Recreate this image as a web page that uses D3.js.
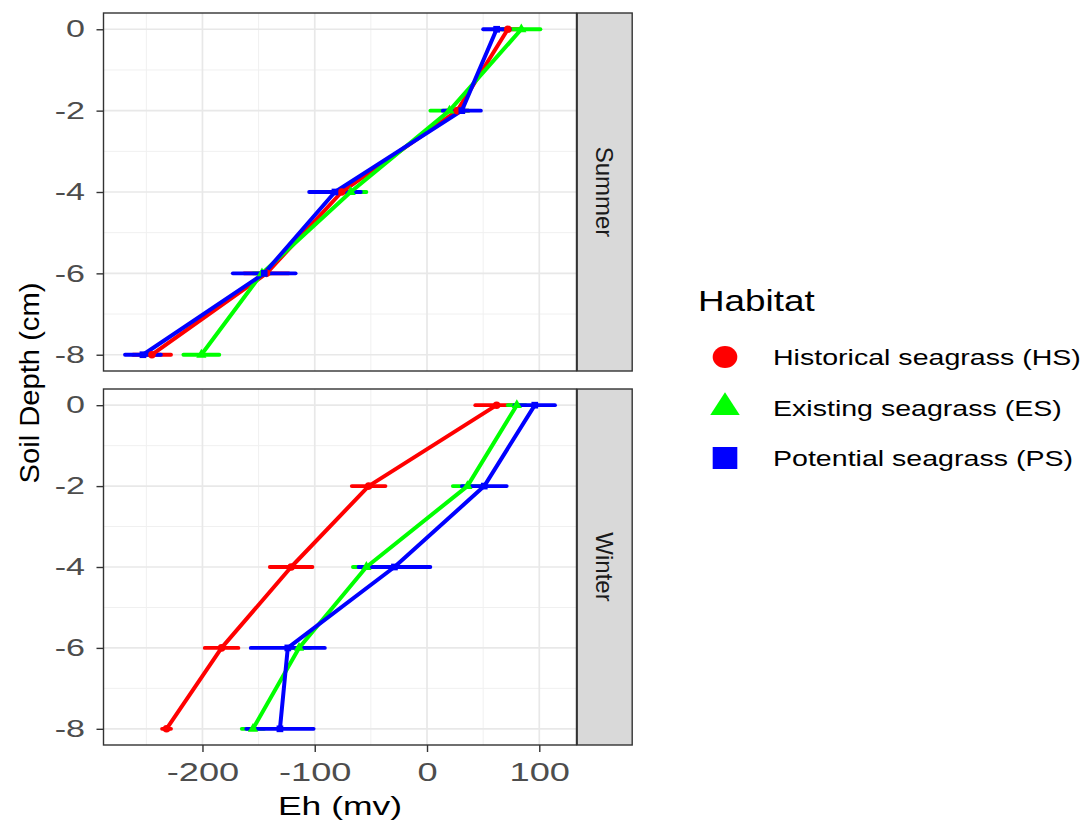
<!DOCTYPE html>
<html>
<head>
<meta charset="utf-8">
<script src="https://cdn.jsdelivr.net/npm/d3@7"></script>
<style>
  body { margin: 0; background: #fff; }
  svg { display: block; }
  text { font-family: "Liberation Sans", Arial, sans-serif; }
</style>
</head>
<body>
<svg id="chart" width="1088" height="821"></svg>
<script>
// depth levels and groups
var depths = [0, -2, -4, -6, -8];
var habitats = ["Historical seagrass (HS)", "Existing seagrass (ES)", "Potential seagrass (PS)"];
var habitatColours = ["#ff0000", "#00ff00", "#0000ff"];
var seasons = ["Summer", "Winter"];

// Eh (mv) means and half widths of the error bars
var summerHS = [72, 27, -76, -143, -245],  summerHSerr = [11, 10, 12, 20, 17];
var summerES = [84, 20, -68, -147, -201],  summerESerr = [17, 17, 14, 8, 16];
var summerPS = [62, 31, -82, -145, -253],  summerPSerr = [12, 17, 23, 28, 16];
var winterHS = [62, -52, -121, -183, -232], winterHSerr = [19, 15, 19, 15, 4];
var winterES = [80, 36, -54, -114, -155],  winterESerr = [8, 13, 12, 10, 10];
var winterPS = [96, 51, -29, -124, -131],  winterPSerr = [18, 20, 32, 33, 30];

var xTicks = [-200, -100, 0, 100],
    xMinor = [-250, -150, -50, 50],
    yTicks = [0, -2, -4, -6, -8],
    yMinor = [-1, -3, -5, -7];

var seriesBySeason = {
  Summer: [[summerHS, summerHSerr], [summerES, summerESerr], [summerPS, summerPSerr]],
  Winter: [[winterHS, winterHSerr], [winterES, winterESerr], [winterPS, winterPSerr]]
};

var panelLeft = 103.5, panelRight = 576.5,
    panels = [{season: "Summer", top: 13, bottom: 371}, {season: "Winter", top: 389, bottom: 745}],
    stripWidth = 55;

var svg = d3.select("#chart");

// the source image has its text widened, so stretch text along its baseline
function stretch(sel, k) {
  sel.each(function() {
    var t = d3.select(this),
        x = +t.attr("x") || 0,
        y = +t.attr("y") || 0;
    t.attr("x", 0).attr("y", 0)
      .attr("transform", "translate(" + x + "," + y + ") scale(" + k + ",1)");
  });
}

// x domain from error bar ends, with ggplot style 5% expansion
var allLo = [], allHi = [];
seasons.forEach(function(s) {
  seriesBySeason[s].forEach(function(p) {
    p[0].forEach(function(v, i) { allLo.push(v - p[1][i]); allHi.push(v + p[1][i]); });
  });
});
var xMin = d3.min(allLo), xMax = d3.max(allHi), xPad = (xMax - xMin) * 0.05;

var x = d3.scaleLinear()
    .domain([xMin - xPad, xMax + xPad])
    .range([panelLeft, panelRight]);

panels.forEach(function(p, pi) {
  var y = d3.scaleLinear().domain([-8.4, 0.4]).range([p.bottom, p.top]);
  var g = svg.append("g");

  g.append("rect")
    .attr("x", panelLeft).attr("y", p.top)
    .attr("width", panelRight - panelLeft).attr("height", p.bottom - p.top)
    .attr("fill", "#fff");

  // grid
  g.selectAll(".xminor").data(xMinor).enter().append("line")
    .attr("x1", function(d) { return x(d); }).attr("x2", function(d) { return x(d); })
    .attr("y1", p.top).attr("y2", p.bottom)
    .attr("stroke", "#f0f0f0").attr("stroke-width", 1);
  g.selectAll(".yminor").data(yMinor).enter().append("line")
    .attr("y1", function(d) { return y(d); }).attr("y2", function(d) { return y(d); })
    .attr("x1", panelLeft).attr("x2", panelRight)
    .attr("stroke", "#f0f0f0").attr("stroke-width", 1);
  g.selectAll(".xmajor").data(xTicks).enter().append("line")
    .attr("x1", function(d) { return x(d); }).attr("x2", function(d) { return x(d); })
    .attr("y1", p.top).attr("y2", p.bottom)
    .attr("stroke", "#e8e8e8").attr("stroke-width", 1.7);
  g.selectAll(".ymajor").data(yTicks).enter().append("line")
    .attr("y1", function(d) { return y(d); }).attr("y2", function(d) { return y(d); })
    .attr("x1", panelLeft).attr("x2", panelRight)
    .attr("stroke", "#e8e8e8").attr("stroke-width", 1.7);

  var series = seriesBySeason[p.season].map(function(s, i) {
    return {
      colour: habitatColours[i],
      shape: i,
      values: depths.map(function(d, j) { return {depth: d, eh: s[0][j], err: s[1][j]}; })
    };
  });

  // horizontal error bars
  series.forEach(function(s) {
    g.selectAll(null).data(s.values).enter().append("line")
      .attr("x1", function(d) { return x(d.eh - d.err); })
      .attr("x2", function(d) { return x(d.eh + d.err); })
      .attr("y1", function(d) { return y(d.depth); })
      .attr("y2", function(d) { return y(d.depth); })
      .attr("stroke", s.colour).attr("stroke-width", 3.8)
      .attr("stroke-linecap", "round");
  });

  var line = d3.line()
    .x(function(d) { return x(d.eh); })
    .y(function(d) { return y(d.depth); });

  series.forEach(function(s) {
    g.append("path")
      .datum(s.values)
      .attr("d", line)
      .attr("fill", "none")
      .attr("stroke", s.colour).attr("stroke-width", 4)
      .attr("stroke-linejoin", "round");
  });

  var shapes = [d3.symbolCircle, d3.symbolTriangle, d3.symbolSquare];
  series.forEach(function(s) {
    g.selectAll(null).data(s.values).enter().append("path")
      .attr("transform", function(d) { return "translate(" + x(d.eh) + "," + y(d.depth) + ")"; })
      .attr("d", d3.symbol().type(shapes[s.shape]).size(45))
      .attr("fill", s.colour);
  });

  // panel border
  g.append("rect")
    .attr("x", panelLeft).attr("y", p.top)
    .attr("width", panelRight - panelLeft).attr("height", p.bottom - p.top)
    .attr("fill", "none").attr("stroke", "#333").attr("stroke-width", 1.4);

  // strip on the right
  g.append("rect")
    .attr("x", panelRight + 0.7).attr("y", p.top)
    .attr("width", stripWidth).attr("height", p.bottom - p.top)
    .attr("fill", "#d9d9d9").attr("stroke", "#333").attr("stroke-width", 1.4);
  g.append("text")
    .attr("transform", "translate(" + (panelRight + 0.7 + stripWidth / 2) + "," + ((p.top + p.bottom) / 2) + ") rotate(90)")
    .attr("text-anchor", "middle")
    .attr("dy", "0.35em")
    .style("font-size", "24px")
    .attr("fill", "#1a1a1a")
    .text(p.season);

  // y axis
  var yAxis = g.append("g")
    .attr("transform", "translate(" + panelLeft + ",0)")
    .call(d3.axisLeft(y).tickValues(yTicks).tickSize(7).tickPadding(11.5));
  yAxis.select(".domain").remove();
  yAxis.selectAll("line").attr("stroke", "#333").attr("stroke-width", 1.4);
  yAxis.selectAll("text")
    .attr("fill", "#4d4d4d")
    .style("font-size", "24px")
    .style("font-family", "'Liberation Sans', Arial, sans-serif")
    .text(function(d) { return String(d); });
  stretch(yAxis.selectAll("text"), 1.42);

  // x axis only under the bottom panel
  if (pi === panels.length - 1) {
    var xAxis = g.append("g")
      .attr("transform", "translate(0," + p.bottom + ")")
      .call(d3.axisBottom(x).tickValues(xTicks).tickSize(7).tickPadding(11));
    xAxis.select(".domain").remove();
    xAxis.selectAll("line").attr("stroke", "#333").attr("stroke-width", 1.4);
    xAxis.selectAll("text")
      .attr("fill", "#4d4d4d")
      .style("font-size", "25.5px")
      .style("font-family", "'Liberation Sans', Arial, sans-serif")
      .text(function(d) { return String(d); });
    stretch(xAxis.selectAll("text"), 1.42);
  }
});

// axis titles
svg.append("text")
  .attr("x", (panelLeft + panelRight) / 2).attr("y", 815)
  .attr("text-anchor", "middle")
  .style("font-size", "25px")
  .attr("fill", "#000")
  .text("Eh (mv)")
  .call(stretch, 1.42);

svg.append("text")
  .attr("x", 39).attr("y", 383)
  .attr("text-anchor", "middle")
  .style("font-size", "27px")
  .attr("fill", "#000")
  .text("Soil Depth (cm)")
  .call(stretch, 1.08)
  .attr("transform", function() { return d3.select(this).attr("transform").replace("scale", "rotate(-90) scale"); });

// legend
var legend = svg.append("g");
legend.append("text")
  .attr("x", 698).attr("y", 311)
  .style("font-size", "29px")
  .attr("fill", "#000")
  .text("Habitat")
  .call(stretch, 1.27);

var legendShapes = [d3.symbolCircle, d3.symbolTriangle, d3.symbolSquare],
    legendSizes = [380, 300, 484],
    legendY = [357, 407.5, 458];

habitats.forEach(function(h, i) {
  legend.append("path")
    .attr("transform", "translate(725," + legendY[i] + ") scale(1.12,1)")
    .attr("d", d3.symbol().type(legendShapes[i]).size(legendSizes[i]))
    .attr("fill", habitatColours[i]);
  legend.append("text")
    .attr("x", 773).attr("y", legendY[i] + 8)
    .style("font-size", "22.5px")
    .attr("fill", "#000")
    .text(h)
    .call(stretch, 1.27);
});
</script>
</body>
</html>
